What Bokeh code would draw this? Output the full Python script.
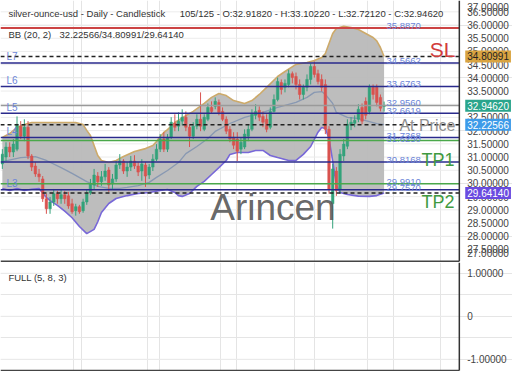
from bokeh.plotting import figure
from bokeh.models import Label, FixedTicker, Range1d, ColumnDataSource, Grid
from bokeh.layouts import column
from bokeh.embed import file_html
from bokeh.resources import INLINE
from bokeh.core.properties import value

# ---------------- data ----------------
title_text = "silver-ounce-usd - Daily - Candlestick"
ohlc_text = "105/125 - O:32.91820 - H:33.10220 - L:32.72120 - C:32.94620"
bb_name = "BB (20, 2)"
bb_text = "32.22566/34.80991/29.64140"
osc_name = "FULL (5, 8, 3)"
watermark = "Arincen"

total_slots = 125

opens = [30.74, 31.00, 31.38, 31.19, 31.30, 32.17, 31.79, 32.13, 31.04, 30.66,
         30.36, 30.17, 29.42, 29.04, 29.30, 29.61, 29.42, 29.57, 29.53, 29.23,
         28.97, 29.12, 28.97, 29.30, 29.64, 29.94, 30.28, 30.06, 30.25, 30.51,
         29.98, 30.17, 30.70, 30.85, 30.47, 30.62, 30.85, 30.66, 30.47, 30.70,
         30.32, 30.62, 30.92, 31.30, 31.68, 31.30, 31.75, 32.28, 32.17, 32.36,
         32.51, 32.13, 31.79, 32.17, 32.43, 32.05, 32.43, 32.88, 32.92, 33.07,
         32.73, 32.43, 32.05, 31.75, 31.68, 31.30, 31.38, 31.79, 32.05, 32.58,
         32.77, 32.54, 32.43, 32.13, 32.73, 33.18, 33.82, 33.64, 33.75, 34.16,
         34.05, 33.75, 33.37, 33.64, 33.94, 34.43, 34.16, 33.94, 33.75, 32.05,
         29.23, 30.47, 29.79, 31.04, 31.41, 32.20, 32.28, 32.43, 32.88, 33.11,
         32.73, 33.64, 33.64, 33.26, 32.9182]
highs = [31.30, 31.56, 31.56, 31.68, 32.54, 32.36, 32.43, 32.36, 31.11, 30.81,
         30.55, 30.28, 29.61, 29.49, 29.79, 29.72, 29.79, 29.72, 29.68, 29.42,
         29.23, 29.19, 29.42, 29.79, 30.17, 30.55, 30.43, 30.47, 30.74, 30.62,
         30.36, 30.85, 31.11, 30.92, 30.81, 31.04, 31.07, 30.81, 30.92, 30.81,
         30.74, 31.11, 31.49, 31.87, 31.94, 31.87, 32.51, 32.62, 32.69, 32.81,
         32.73, 32.24, 32.32, 32.62, 33.45, 32.62, 33.03, 33.11, 33.26, 33.18,
         32.88, 32.54, 32.17, 31.94, 31.94, 31.75, 32.05, 32.24, 32.81, 33.00,
         32.92, 32.73, 32.62, 32.88, 33.37, 34.01, 33.94, 33.94, 34.31, 34.24,
         34.20, 33.94, 33.75, 34.13, 34.54, 34.62, 34.31, 34.13, 33.94, 32.17,
         30.74, 30.62, 31.30, 31.68, 32.43, 32.51, 32.58, 33.00, 33.03, 33.26,
         33.75, 33.75, 33.75, 33.37, 33.1022]
lows = [30.55, 30.85, 31.00, 31.00, 31.22, 31.68, 31.60, 30.92, 30.47, 30.25,
        30.06, 29.30, 28.85, 28.85, 29.15, 29.23, 29.23, 29.23, 29.04, 28.85,
        28.78, 28.85, 28.89, 29.19, 29.57, 29.79, 29.87, 29.91, 30.10, 29.68,
        29.79, 30.06, 30.55, 30.36, 30.25, 30.47, 30.55, 30.28, 30.10, 29.87,
        30.17, 30.47, 30.85, 31.19, 31.19, 31.19, 31.68, 31.98, 31.98, 32.20,
        31.98, 31.38, 31.68, 32.05, 31.98, 31.98, 32.36, 32.66, 32.81, 32.58,
        32.36, 31.87, 31.56, 31.30, 30.85, 31.11, 31.30, 31.60, 31.98, 32.43,
        32.36, 32.13, 31.94, 32.05, 32.69, 33.11, 33.37, 33.45, 33.64, 33.79,
        33.56, 33.18, 33.18, 33.49, 33.75, 34.01, 33.75, 33.49, 31.87, 29.61,
        28.29, 29.53, 29.61, 30.85, 31.30, 32.02, 32.13, 32.32, 32.24, 32.43,
        32.62, 33.18, 32.92, 32.73, 32.7212]
closes = [31.11, 31.38, 31.19, 31.49, 32.24, 31.79, 32.13, 31.04, 30.62, 30.36,
          30.25, 29.42, 29.04, 29.30, 29.61, 29.42, 29.57, 29.42, 29.15, 28.93,
          29.12, 28.93, 29.30, 29.61, 29.98, 30.32, 30.06, 30.25, 30.47, 29.94,
          30.17, 30.70, 30.85, 30.47, 30.62, 30.85, 30.66, 30.43, 30.74, 30.28,
          30.62, 30.92, 31.30, 31.68, 31.30, 31.75, 32.32, 32.13, 32.36, 32.51,
          32.13, 31.79, 32.17, 32.43, 32.17, 32.51, 32.88, 32.73, 33.11, 32.69,
          32.43, 31.98, 31.68, 31.45, 31.22, 31.56, 31.87, 32.05, 32.62, 32.73,
          32.51, 32.32, 32.05, 32.73, 33.18, 33.86, 33.56, 33.79, 34.16, 34.01,
          33.75, 33.37, 33.64, 33.94, 34.43, 34.13, 33.86, 33.64, 32.05, 29.79,
          30.55, 29.72, 31.11, 31.49, 32.24, 32.32, 32.39, 32.81, 32.36, 32.58,
          33.64, 33.37, 33.07, 32.85, 32.9462]

upper_idx = [0, 2, 4, 6, 8, 12, 16, 20, 22, 23, 24, 25, 26, 27, 29, 31, 33, 36, 39, 41,
             42, 43, 44, 45, 47, 50, 52, 55, 57, 59, 61, 63, 66, 68, 70, 72, 75, 77, 80, 83,
             85, 87, 88, 89, 90, 91, 93, 95, 97, 99, 101, 102, 103, 104]
upper_val = [31.74, 31.89, 32.12, 32.23, 32.31, 32.31, 32.31, 32.31, 32.23, 32.01,
             31.82, 31.44, 31.06, 30.87, 30.79, 30.87, 31.02, 31.21, 31.32, 31.44,
             31.59, 31.78, 31.93, 32.04, 32.31, 32.57, 32.73, 33.03, 33.26, 33.41,
             33.33, 33.14, 33.03, 33.14, 33.37, 33.64, 34.05, 34.24, 34.51, 34.58,
             34.66, 34.77, 34.92, 35.30, 35.68, 35.87, 35.95, 35.91, 35.83, 35.68,
             35.53, 35.40, 35.15, 34.80991]
mid_idx = [0, 5, 9, 12, 16, 19, 23, 26, 29, 32, 34, 37, 40, 42, 45, 48, 50, 53, 56, 58,
           62, 66, 71, 75, 80, 83, 85, 87, 88, 90, 91, 94, 97, 99, 102, 104]
mid_val = [30.83, 30.98, 31.02, 30.87, 30.60, 30.38, 30.07, 29.89, 29.81, 29.81,
           29.85, 29.92, 30.04, 30.23, 30.49, 30.79, 31.13, 31.40, 31.70, 31.97,
           32.27, 32.50, 32.69, 32.88, 33.07, 33.26, 33.45, 33.48, 33.37, 33.03,
           32.69, 32.50, 32.46, 32.38, 32.27, 32.22566]
low_idx = [0, 2, 4, 6, 8, 10, 12, 13, 15, 17, 19, 21, 23, 25, 26, 27, 29, 31, 34, 37,
           40, 43, 45, 47, 48, 49, 51, 53, 55, 57, 59, 61, 62, 64, 67, 69, 71, 73, 75, 78,
           80, 82, 84, 86, 87, 88, 89, 90, 91, 92, 94, 97, 100, 102, 104]
low_val = [29.81, 29.73, 29.81, 29.73, 29.78, 29.81, 29.47, 29.35, 29.17, 28.95,
           28.70, 28.37, 28.10, 28.26, 28.55, 28.90, 29.24, 29.43, 29.54, 29.62,
           29.66, 29.73, 29.77, 29.66, 29.54, 29.51, 29.62, 29.89, 30.08, 30.34,
           30.60, 30.87, 31.10, 31.17, 31.17, 31.25, 31.25, 31.06, 30.98, 30.87,
           30.87, 31.10, 31.40, 31.94, 32.12, 32.08, 31.70, 30.85, 29.92, 29.66,
           29.58, 29.52, 29.51, 29.54, 29.64141]

bb_now = [34.80991, 32.22566, 29.64140]          # upper, middle, lower
close_now = 32.94620

level_names = ["L7", "L6", "L5", "L4", "L3"]
level_vals = [34.5662, 33.6763, 32.6619, 31.7368, 29.7570]
extra_level = 30.8168
grey_level = 32.9560
sl_val = 35.8870
tp_names = ["TP1", "TP2"]
tp_vals = [31.6250, 29.9910]
value_labels = [35.8870, 34.5662, 33.6763, 32.9560, 32.6619, 31.7368, 31.6250, 30.8168, 29.9910, 29.7570]

month_grid = [22.0, 43.2, 64.4, 85.6, 107.0]
price_ticks = [27.5, 28.0, 28.5, 29.0, 29.5, 30.0, 30.5, 31.0, 31.5, 32.0,
               32.5, 33.0, 33.5, 34.0, 34.5, 35.0, 35.5, 36.0, 36.5]
price_tick_labels = ["27.50000", "28.00000", "28.50000", "29.00000", "29.50000", "30.00000",
                     "30.50000", "31.00000", "31.50000", "32.00000", "32.50000", "33.00000",
                     "33.50000", "34.00000", "34.50000", "35.00000", "35.50000", "36.00000",
                     "36.50000"]
edge_tick_labels = ["37.00000", "27.00000"]
osc_ticks = [1, 0, -1]
osc_tick_labels = ["1.00000", "0", "-1.00000"]

# ---------------- layout / style ----------------
W = 512
REF_W = 520.0            # reference picture width
REF_FRAME = 466.0        # reference: x where the price axis sits
X_END = total_slots * REF_W / REF_FRAME
FH = 262
Y1 = 36.93
PPU = 26.4               # pixels per price unit
Y0 = Y1 - FH / PPU
FONT = "Liberation Sans"
GREEN = "#33a27a"
RED = "#d9534f"
NAVY = "#2a2a8c"
LVL_TXT = "#6b85d8"
AX_TXT = "#444444"


def rx(px_ref):
    return px_ref * total_slots / REF_FRAME


def ry(py_ref):
    return Y1 - py_ref / PPU


def dpx(px):
    return px / PPU


def make_fig(h, yr):
    f = figure(width=W, height=h, x_range=Range1d(0, X_END), y_range=yr,
               output_backend="svg", toolbar_location=None, x_axis_location=None,
               y_axis_location=None, min_border=0)
    f.min_border_left = f.min_border_right = f.min_border_top = f.min_border_bottom = 0
    f.outline_line_color = None
    f.background_fill_color = "white"
    f.border_fill_color = "white"
    f.add_layout(Grid(dimension=0, ticker=FixedTicker(ticks=month_grid),
                      grid_line_color="#e4e4e4", level="underlay"))
    return f


def hlines(f, vals, color, width, dash="solid"):
    f.segment(x0=[0] * len(vals), x1=[total_slots] * len(vals), y0=vals, y1=vals,
              line_color=color, line_width=width, line_dash=dash)


def txt(f, x, y, s, size, color, align="left", base="alphabetic", alpha=1.0):
    f.add_layout(Label(x=x, y=y, text=s, text_font=FONT, text_font_size=size,
                       text_color=color, text_align=align, text_baseline=base,
                       text_alpha=alpha))


def axis_labels(f, ys, labels):
    f.text(x=[rx(474)] * len(ys), y=ys, text=labels, text_font=value(FONT),
           text_font_size=value("10px"), text_color=AX_TXT, text_baseline="middle")


# ---------------- main panel ----------------
p = make_fig(FH, Range1d(Y0, Y1))
hlines(p, price_ticks, "#ececec", 1)

band_x = [i + 0.5 for i in upper_idx] + [i + 0.5 for i in reversed(low_idx)]
band_y = list(upper_val) + list(reversed(low_val))
p.patch(band_x, band_y, fill_color="#b9b9b9", fill_alpha=0.95, line_color=None)
p.line([i + 0.5 for i in upper_idx], upper_val, line_color="#cdaa6a", line_width=1.6)
p.line([i + 0.5 for i in low_idx], low_val, line_color="#7868d8", line_width=1.6)
p.line([i + 0.5 for i in mid_idx], mid_val, line_color="#8898b2", line_width=1.3)

xs = [i + 0.5 for i in range(len(closes))]
cols = [GREEN if c >= o else RED for o, c in zip(opens, closes)]
src = ColumnDataSource(dict(x=xs, h=highs, l=lows,
                            top=[max(o, c) for o, c in zip(opens, closes)],
                            bot=[min(o, c) for o, c in zip(opens, closes)],
                            col=cols))
p.segment(x0="x", y0="l", x1="x", y1="h", line_color="col", line_width=1, source=src)
p.vbar(x="x", width=0.7, top="top", bottom="bot", fill_color="col", line_color="col",
       line_width=0.5, source=src)

txt(p, rx(8), ry(13), title_text, "9.5px", "#333333")
txt(p, rx(182), ry(13), ohlc_text, "9.5px", "#333333")
txt(p, rx(8), ry(34), bb_name, "9.5px", "#333333")
txt(p, rx(60), ry(34), bb_text, "9.5px", "#333333")
txt(p, rx(213), ry(207), watermark, "37px", "#555555", alpha=0.9)
txt(p, rx(462), ry(49), "SL", "21px", "#d23c3c", align="right")
txt(p, rx(462), ry(125), "At Price", "16px", "#8f8f8f", align="right")
txt(p, rx(461), ry(159), tp_names[0], "18px", "#3f9a3f", align="right")
txt(p, rx(461), ry(201), tp_names[1], "18px", "#3f9a3f", align="right")
for name, v in zip(level_names, level_vals):
    txt(p, rx(6), v + dpx(6), name, "10px", LVL_TXT)
for v in value_labels:
    txt(p, rx(392), v + dpx(2), "%.4f" % v, "9.5px", LVL_TXT)

hlines(p, level_vals + [extra_level], NAVY, 1.5)
hlines(p, [grey_level], "#9a9a9a", 1.5)
hlines(p, tp_vals, "#4aa84a", 1.5)
hlines(p, [sl_val], "#cc4444", 2)
hlines(p, bb_now, "#222222", 1.5, dash="4 3")
hlines(p, [ry(260.7)], "#444444", 1.5)
p.segment(x0=[total_slots], x1=[total_slots], y0=[ry(260.7)], y1=[Y1],
          line_color="#333333", line_width=1.5)

axis_labels(p, price_ticks, price_tick_labels)
axis_labels(p, [ry(6.5), ry(252)], edge_tick_labels)

badges = [(bb_now[0], "#d9a441", "#222222"), (close_now, "#2aa58c", "white"),
          (bb_now[1], "#3d9be9", "white"), (bb_now[2], "#6a4be0", "white")]
for v, bg, fg in badges:
    p.add_layout(Label(x=rx(472), y=v, text="%.5f" % v, text_font=FONT,
                       text_font_size="10px", text_color=fg, text_baseline="middle",
                       background_fill_color=bg, padding=2))

# ---------------- lower panel ----------------
OH = 109
OPPU = 43.0
OY1 = 1.25
p2 = make_fig(OH, Range1d(OY1 - OH / OPPU, OY1))
hlines(p2, osc_ticks, "#ececec", 1)
p2.segment(x0=[0], x1=[total_slots], y0=[OY1 - 108 / OPPU], y1=[OY1 - 108 / OPPU],
           line_color="#444444", line_width=1.5)
p2.segment(x0=[total_slots], x1=[total_slots], y0=[OY1 - 108 / OPPU], y1=[OY1],
           line_color="#333333", line_width=1.5)
axis_labels(p2, osc_ticks, osc_tick_labels)
txt(p2, rx(8), OY1 - 15 / OPPU, osc_name, "9.5px", "#333333")

layout = column(p, p2, spacing=0)
open("out.html", "w").write(file_html(layout, INLINE))
